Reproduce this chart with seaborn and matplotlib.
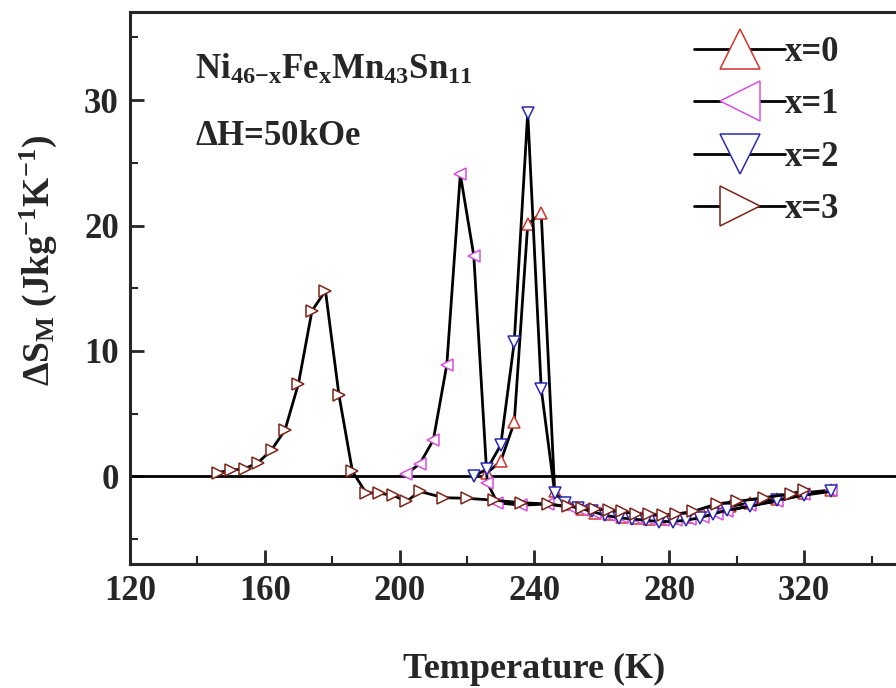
import seaborn as sns
import pandas as pd
import matplotlib.pyplot as plt

# style="ticks": 白背景、グリッドなし
sns.set_theme(style="ticks")
plt.rcParams['font.family'] = ['Liberation Serif', 'DejaVu Serif']
plt.rcParams['font.weight'] = 'bold'
plt.rcParams['mathtext.fontset'] = 'custom'
plt.rcParams['mathtext.rm'] = 'Liberation Serif:bold'
plt.rcParams['mathtext.bf'] = 'Liberation Serif:bold'
plt.rcParams['mathtext.it'] = 'Liberation Serif:bold'

# x=0
t0 = [226, 230, 234, 238, 242, 246, 250, 254, 258, 262, 266, 270, 274, 278,
      282, 286, 290, 294, 298, 304, 312, 320, 328]
s0 = [0.3, 1.2, 4.3, 20.1, 21.0, -1.2, -2.2, -2.6, -2.9, -3.0, -3.2, -3.3, -3.4, -3.4,
      -3.3, -3.2, -3.0, -2.7, -2.4, -2.1, -1.8, -1.3, -1.1]
# x=1
t1 = [202, 206, 210, 214, 218, 222, 226, 229, 236, 244, 251, 254, 258, 262, 266,
      270, 274, 278, 282, 286, 290, 294, 297, 304, 312, 320, 328]
s1 = [0.2, 1.0, 2.9, 8.9, 24.1, 17.6, -0.5, -2.1, -2.3, -2.2, -2.5, -2.7, -2.9, -3.1, -3.2,
      -3.3, -3.4, -3.5, -3.5, -3.4, -3.2, -3.0, -2.8, -2.3, -2.0, -1.4, -1.1]
# x=2
t2 = [222, 226, 230, 234, 238, 242, 246, 249, 253, 257, 261, 265, 269, 273,
      277, 281, 285, 289, 293, 297, 304, 312, 320, 328]
s2 = [0.0, 0.6, 2.5, 10.7, 29.0, 7.0, -1.3, -2.1, -2.5, -2.8, -3.1, -3.3, -3.4, -3.5,
      -3.6, -3.6, -3.5, -3.3, -3.0, -2.7, -2.4, -1.9, -1.5, -1.2]
# x=3
t3 = [146, 150, 154, 158, 162, 166, 170, 174, 178, 182, 186, 190, 194, 198, 202,
      206, 213, 220, 228, 236, 244, 250, 254, 258, 262, 266, 270, 274, 278, 282,
      287, 294, 300, 308, 316, 320]
s3 = [0.3, 0.5, 0.6, 1.1, 2.1, 3.7, 7.4, 13.2, 14.8, 6.5, 0.4, -1.3, -1.35, -1.5, -2.0,
      -1.2, -1.7, -1.75, -1.9, -2.1, -2.2, -2.4, -2.5, -2.6, -2.7, -2.8, -3.0, -3.0, -3.1, -3.0,
      -2.8, -2.2, -2.0, -1.7, -1.4, -1.1]

labels = ['x=0', 'x=1', 'x=2', 'x=3']
markers = ['^', '<', 'v', '>']
colors = ['#d0342c', '#d84fe0', '#2a2ab8', '#7a2418']

series = [(t0, s0), (t1, s1), (t2, s2), (t3, s3)]

fig = plt.figure(figsize=(8.96, 6.88), dpi=100)
# 右側は元画像で切れているので、軸を図の外まで伸ばす
ax = fig.add_axes([0.145, 0.180, 0.903, 0.802])

ax.axhline(0, color='black', lw=2, zorder=1)

for (t, s), lab, mk, col in zip(series, labels, markers, colors):
    df = pd.DataFrame({'T': t, 'S': s})
    sns.lineplot(data=df, x='T', y='S', ax=ax, color='black', lw=2,
                 marker=mk, markersize=8.5, markeredgecolor=col,
                 markerfacecolor='white', markeredgewidth=1.1, label=lab)

ax.set_xlim(120, 360)
ax.set_ylim(-7, 37)
ax.set_xticks([120, 160, 200, 240, 280, 320])
ax.set_xticks(range(140, 360, 40), minor=True)
ax.set_yticks([0, 10, 20, 30])
ax.set_yticks([-5, 5, 15, 25, 35], minor=True)
ax.tick_params(which='major', direction='in', length=10, width=2, labelsize=25, pad=8)
ax.tick_params(which='minor', direction='in', length=6, width=1.5)
for sp in ax.spines.values():
    sp.set_linewidth(2.2)

ax.set_xlabel('Temperature (K)', fontsize=26, fontweight='bold', labelpad=32)
ax.set_ylabel(r'$\Delta$S$_{\rm M}$ (Jkg$^{-1}$K$^{-1}$)', fontsize=27,
              fontweight='bold')
ax.yaxis.set_label_coords(-0.088, 0.55)

ax.text(0.08, 0.895, r'$\mathbf{Ni_{46{-}x}Fe_{x}Mn_{43}Sn_{11}}$', transform=ax.transAxes,
        fontsize=25, ha='left', va='center')
ax.text(0.08, 0.775, r'$\Delta$H=50kOe', transform=ax.transAxes,
        fontsize=25, fontweight='bold', ha='left', va='center')

leg = ax.legend(loc='upper left', bbox_to_anchor=(0.672, 0.995), frameon=False,
                fontsize=25, markerscale=3.4, handlelength=2.6, handletextpad=0.0,
                labelspacing=0.56, borderaxespad=0.2)

fig.savefig('out.png', dpi=100)
